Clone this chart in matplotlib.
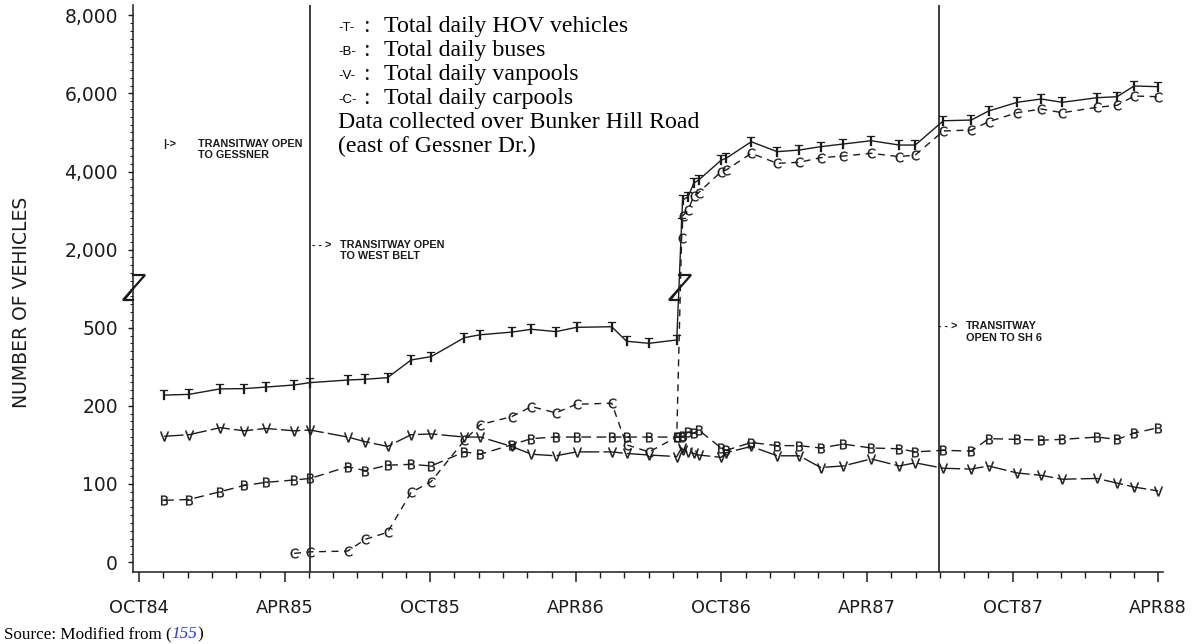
import numpy as np
import matplotlib
matplotlib.use('Agg')
import matplotlib.pyplot as plt
from matplotlib.ticker import FixedLocator, FixedFormatter, NullFormatter

# ---------------- data (months since OCT 1984) ----------------
months = [1.03, 2.06, 3.34, 4.33, 5.23, 6.39, 7.05, 8.60, 9.32, 10.24, 11.21,
          12.04, 13.41, 14.07, 15.35, 16.17, 17.18, 18.03, 19.48, 20.09, 21.02,
          22.16,
          22.36, 22.40, 22.63, 22.86, 23.06,
          23.99, 24.20, 25.23, 26.30, 27.21, 28.09, 29.02, 30.17, 31.33, 31.99,
          33.15, 34.30, 35.01, 36.19, 37.18, 38.05, 39.48, 40.31, 41.01, 42.00]

hov_total = [241, 244, 265, 266, 272, 280, 289, 299, 302, 308, 376, 389, 462,
             473, 483, 494, 485, 507, 519, 448, 440, 453,
             2674, 3270, 3354, 3700, 3780,
             4290, 4340, 4762, 4508, 4550, 4636, 4704, 4788, 4678, 4678, 5300,
             5318, 5549, 5772, 5857, 5772, 5890, 5916, 6190, 6172]

buses = [79, 80, 90, 98, 102, 105, 107, 122, 117, 124, 125, 123, 141, 138,
         150, 158, 160, 160, 160, 160, 160, 160,
         160, 161, 166, 165, 169,
         146, 143, 153, 149, 149, 146, 151, 146, 145, 141, 143, 142, 158, 157,
         156, 157, 160, 157, 165, 172]

vanpools = [161, 163, 172, 168, 171, 168, 169, 160, 154, 148, 163, 164, 160,
            160, 148, 138, 136, 141, 141, 139, 137, 135,
            146, 144, 141, 139, 137,
            134, 140, 148, 136, 136, 121, 123, 132, 123, 127, 120, 119, 123,
            114, 111, 106, 107, 101, 96, 91]

nan = float('nan')
carpools = [nan, nan, nan, nan, nan, 11, 13, 14, 29, 38, 89, 103, 156, 176,
            186, 199, 191, 206, 210, 150, 141, 160,
            2290, 2860, 3014, 3370, 3460,
            3994, 4040, 4466, 4210, 4236, 4354, 4396, 4466, 4380, 4423, 5038,
            5063, 5275, 5506, 5600, 5506, 5644, 5696, 5933, 5916]

y_break_vals = [0, 100, 200, 500, 2000, 4000, 6000, 8000]
y_tick_labels = ['0', '100', '200', '500', '2,000', '4,000', '6,000', '8,000']
x_tick_pos = [0, 6, 12, 18, 24, 30, 36, 42]
x_tick_labels = ['OCT84', 'APR85', 'OCT85', 'APR86', 'OCT86', 'APR87',
                 'OCT87', 'APR88']
event_months = [7.05, 32.95]

legend_keys = ['-T-', '-B-', '-V-', '-C-']
legend_texts = ['Total daily HOV vehicles', 'Total daily buses',
                'Total daily vanpools', 'Total daily carpools']
note_lines = ['Data collected over Bunker Hill Road', '(east of Gessner Dr.)']

# ---------------- broken (piecewise) y scale ----------------
_pos = np.arange(len(y_break_vals), dtype=float)


def fwd(v):
    v = np.asarray(v, dtype=float)
    out = np.interp(v, y_break_vals, _pos)
    out = np.where(v < 0, v / 100.0, out)
    out = np.where(v > 8000, 7 + (v - 8000) / 2000.0, out)
    return out


def inv(p):
    p = np.asarray(p, dtype=float)
    out = np.interp(p, _pos, y_break_vals)
    out = np.where(p < 0, p * 100.0, out)
    out = np.where(p > 7, 8000 + (p - 7) * 2000.0, out)
    return out


W, H = 1196, 644
INK = '#1c1c1c'
fig = plt.figure(figsize=(W / 100, H / 100), dpi=100)
fig.patch.set_facecolor('white')
ax = fig.add_axes([133 / W, 1 - 572 / H, 1030 / W, 567 / H])
ax.set_yscale('function', functions=(fwd, inv))
ax.set_ylim(float(inv(-0.128)), float(inv(7.132)))
ax.set_xlim(-0.25, 42.2)

for s in ['top', 'right']:
    ax.spines[s].set_visible(False)
for s in ['left', 'bottom']:
    ax.spines[s].set_linewidth(1.1)
    ax.spines[s].set_color(INK)

ax.yaxis.set_major_locator(FixedLocator(y_break_vals))
ax.yaxis.set_major_formatter(FixedFormatter(y_tick_labels))
ax.yaxis.set_minor_locator(FixedLocator(list(inv(np.arange(0, 7.001, 0.1)))))
ax.yaxis.set_minor_formatter(NullFormatter())
ax.xaxis.set_major_locator(FixedLocator(x_tick_pos))
ax.xaxis.set_major_formatter(FixedFormatter(x_tick_labels))
ax.xaxis.set_minor_locator(FixedLocator(list(range(0, 43))))
ax.xaxis.set_minor_formatter(NullFormatter())
ax.tick_params(axis='y', which='major', length=3.8, width=1.0, pad=7,
               labelsize=13.5, colors=INK)
ax.tick_params(axis='y', which='minor', length=2.0, width=0.7, colors=INK)
ax.tick_params(axis='x', which='major', length=7.5, width=1.1, pad=12,
               labelsize=12.8, colors=INK)
ax.tick_params(axis='x', which='minor', length=4.0, width=1.0, colors=INK)

# event lines
for m in event_months:
    ax.axvline(m, color=INK, lw=1.2, zorder=1)

x = np.array(months)
mk = dict(markersize=7, markeredgewidth=0.2, color=INK)
ax.plot(x, hov_total, '-', lw=1.0, marker=r'$\mathsf{T}$', **mk, zorder=3)
ax.plot(x, buses, lw=1.0, ls=(0, (7, 4)), marker=r'$\mathsf{B}$', **mk, zorder=3)
ax.plot(x, vanpools, lw=1.0, ls=(0, (14, 3)), marker=r'$\mathsf{V}$', **mk, zorder=3)
ax.plot(x, carpools, lw=1.0, ls=(0, (5, 4)), marker=r'$\mathsf{C}$', **mk, zorder=3)


# axis-break symbols (pixel offsets from the reference layout)
def px_ax(px, py):
    return (px - 133) / 1030.0, (572 - py) / 567.0


def draw_break(cx):
    pts = [(cx, 275), (cx + 12, 275), (cx - 10, 300), (cx, 300)]
    xs, ys = zip(*[px_ax(a, b) for a, b in pts])
    ax.plot(xs, ys, color=INK, lw=1.6, transform=ax.transAxes, clip_on=False,
            zorder=5, solid_joinstyle='miter')
    pts2 = [(cx - 8, 299), (cx, 289)]
    xs, ys = zip(*[px_ax(a, b) for a, b in pts2])
    ax.plot(xs, ys, color=INK, lw=1.4, transform=ax.transAxes, clip_on=False,
            zorder=5)


draw_break(133)
# break on the jump of the series, located from the data x of the jump
jump_px = 139 + 24.26 * (0.5 * (months[21] + months[22]))
draw_break(jump_px)


# ---------------- texts ----------------
def ft(px, py, s, **kw):
    return fig.text(px / W, 1 - py / H, s, **kw)


ann = dict(family='Liberation Sans', weight='bold', fontsize=7.8, color=INK,
           va='baseline', ha='left')
ft(163, 147, '|->', **ann)
ft(198, 147, 'TRANSITWAY OPEN', **ann)
ft(198, 158, 'TO GESSNER', **ann)
ft(312, 248, '- - >', **ann)
ft(340, 248, 'TRANSITWAY OPEN', **ann)
ft(340, 259, 'TO WEST BELT', **ann)
ft(938, 329, '- - >', **ann)
ft(966, 329, 'TRANSITWAY', **ann)
ft(966, 341, 'OPEN TO SH 6', **ann)

ft(22, 302, 'NUMBER OF VEHICLES', rotation=90, ha='center', va='center',
   fontsize=13.5, color=INK)

serif = dict(family='Liberation Serif', fontsize=17.2, color='black',
             va='baseline', ha='left')
for i, (k, t) in enumerate(zip(legend_keys, legend_texts)):
    yb = 32 + 24 * i
    ft(338, yb - 1, k, family='Liberation Sans', fontsize=9.5, color='black',
       va='baseline', ha='left')
    ft(363, yb, ':', **serif)
    ft(384, yb, t, **serif)
for j, t in enumerate(note_lines):
    ft(338, 32 + 24 * (4 + j), t, **serif)

r = fig.canvas.get_renderer()
src = dict(family='Liberation Serif', fontsize=12.3, va='baseline', ha='left')
t1 = ft(4, 638, 'Source: Modified from (', color='black', **src)
b1 = t1.get_window_extent(renderer=r)
t2 = fig.text(b1.x1 / W, 1 - 638 / H, '155', color='#2233ee', style='italic', **src)
b2 = t2.get_window_extent(renderer=r)
fig.text(b2.x1 / W, 1 - 638 / H, ')', color='black', **src)

fig.savefig('out.png', dpi=100, facecolor='white')
